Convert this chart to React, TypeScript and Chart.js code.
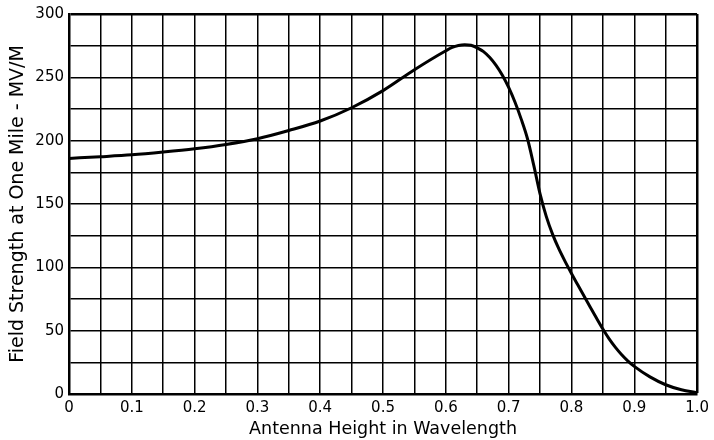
import React, { useEffect, useRef } from "react";
import { Chart, registerables } from "chart.js";

Chart.register(...registerables);

const heights = [0, 0.05, 0.1, 0.15, 0.2, 0.25, 0.3, 0.35, 0.4, 0.45, 0.5, 0.55, 0.6, 0.61, 0.62, 0.63, 0.64, 0.65, 0.66, 0.67, 0.68, 0.69, 0.7, 0.71, 0.72, 0.73, 0.74, 0.75, 0.76, 0.77, 0.78, 0.79, 0.8, 0.81, 0.82, 0.83, 0.84, 0.85, 0.86, 0.87, 0.88, 0.89, 0.9, 0.925, 0.95, 0.975, 1.0];
const fieldStrength = [186, 187.3, 188.8, 191, 193.6, 197, 201.5, 208, 215.5, 226, 239.5, 256, 271, 273.6, 275.2, 275.8, 275.3, 273.3, 270.3, 265.6, 259.4, 251.6, 242, 230.5, 217, 201.5, 180.5, 158, 140, 126, 114.5, 104.5, 95.2, 86.2, 77.3, 68.5, 59.8, 51.3, 43.5, 36.8, 31, 26, 21.8, 13.5, 7.3, 3.3, 1];
const xTickLabels = ["0", "0.1", "0.2", "0.3", "0.4", "0.5", "0.6", "0.7", "0.8", "0.9", "1.0"];
const yTickLabels = ["0", "50", "100", "150", "200", "250", "300"];

const FONT = "'DejaVu Sans', sans-serif";

export default function App() {
  const ref = useRef<HTMLCanvasElement>(null);
  useEffect(() => {
    if (!ref.current) return;
    const data = heights.map((x, i) => ({ x, y: fieldStrength[i] }));
    const chart = new Chart(ref.current, {
      type: "line",
      data: {
        datasets: [
          {
            data,
            borderColor: "#000",
            borderWidth: 3,
            pointRadius: 0,
            cubicInterpolationMode: "monotone",
            fill: false,
          },
        ],
      },
      options: {
        animation: false,
        responsive: false,
        maintainAspectRatio: false,
        layout: { padding: { left: 0, right: 9, top: 13, bottom: 0 } },
        plugins: { legend: { display: false }, tooltip: { enabled: false } },
        scales: {
          x: {
            type: "linear",
            min: 0,
            max: 1,
            border: { display: true, color: "#000", width: 2.5 },
            grid: {
              color: "#000",
              lineWidth: (c: any) => (Math.abs(c.tick.value - 1) < 1e-6 ? 2.5 : 1.5),
              drawTicks: false,
            },
            ticks: {
              stepSize: 0.05,
              autoSkip: false,
              maxRotation: 0,
              color: "#000",
              padding: 5,
              font: { family: FONT, size: 15 },
              callback: (v: any) => {
                const k = Math.round(Number(v) * 100);
                if (k % 10 !== 0) return "";
                return xTickLabels[k / 10];
              },
            },
            title: {
              display: true,
              text: "Antenna Height in Wavelength",
              color: "#000",
              font: { family: FONT, size: 17.5 },
              padding: { top: 0, bottom: 0 },
            },
            afterFit: (s: any) => {
              s.height = 46;
            },
          },
          y: {
            type: "linear",
            min: 0,
            max: 300,
            border: { display: true, color: "#000", width: 2.5 },
            grid: {
              color: "#000",
              lineWidth: (c: any) => (c.tick.value === 300 ? 2.5 : 1.5),
              drawTicks: false,
            },
            ticks: {
              stepSize: 25,
              autoSkip: false,
              color: "#000",
              padding: 5,
              font: { family: FONT, size: 15 },
              callback: (v: any) => {
                const n = Math.round(Number(v));
                if (n % 50 !== 0) return "";
                return yTickLabels[n / 50];
              },
            },
            title: {
              display: true,
              text: "Field Strength at One Mile - MV/M",
              color: "#000",
              font: { family: FONT, size: 19 },
              padding: { top: 7, bottom: 0 },
            },
            afterFit: (s: any) => {
              s.width = 69;
            },
          },
        },
      },
    });
    return () => chart.destroy();
  }, []);
  return (
    <div style={{ position: "fixed", left: 0, top: 0, width: 714, height: 440, background: "#fff" }}>
      <canvas ref={ref} width={714} height={440} style={{ width: 714, height: 440 }} />
    </div>
  );
}
